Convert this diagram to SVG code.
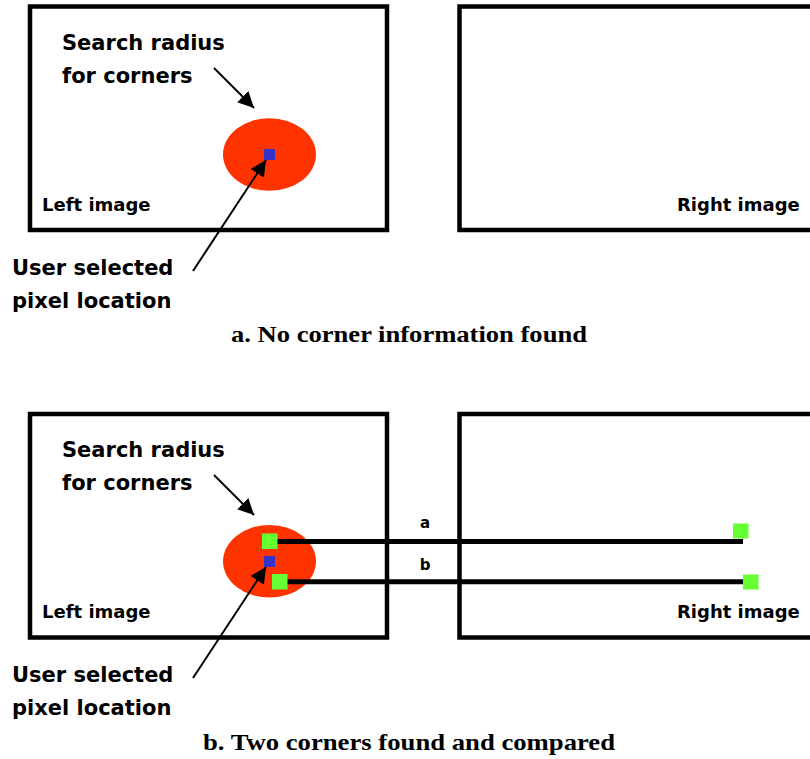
<svg xmlns="http://www.w3.org/2000/svg" width="810" height="759" viewBox="0 0 810 759">
  <style>
    .frame { fill: none; stroke: #000; stroke-width: 4.5; }
    .lbl { font-family: "DejaVu Sans", Verdana, sans-serif; font-weight: bold; fill: #000; }
    .big { font-size: 21px; }
    .mid { font-size: 18px; }
    .sm { font-size: 15px; }
    .cap { font-family: "Liberation Serif", "Times New Roman", serif; font-weight: bold; font-size: 24px; fill: #000; }
    .region { fill: #FF3300; }
    .pix { fill: #3333CC; }
    .corner { fill: #66FF33; }
    .arrow { stroke: #000; stroke-width: 2; fill: none; marker-end: url(#ah); }
    .match { stroke: #000; stroke-width: 5; fill: none; }
  </style>
  <defs>
    <marker id="ah" markerUnits="userSpaceOnUse" markerWidth="17" markerHeight="16" refX="16" refY="8" orient="auto">
      <path d="M0,0 L16,8 L0,16 Z" fill="#000"/>
    </marker>
  </defs>
  <rect width="810" height="759" fill="#fff"/>

  <!-- Panel a -->
  <g id="panel-a">
    <g id="a-left-image">
      <rect class="frame" x="30" y="6.5" width="357" height="223.5"/>
      <text class="lbl mid" x="42" y="211">Left image</text>
    </g>
    <g id="a-right-image">
      <rect class="frame" x="459.5" y="6.5" width="360" height="223.5"/>
      <text class="lbl mid" x="677" y="211">Right image</text>
    </g>
    <g id="a-search-region">
      <ellipse class="region" cx="269.5" cy="154.5" rx="46.5" ry="36.3"/>
      <rect class="pix" x="264" y="149" width="11" height="11"/>
    </g>
    <g id="a-search-label">
      <text class="lbl big" x="62" y="50">Search radius</text>
      <text class="lbl big" x="62" y="83">for corners</text>
    </g>
    <g id="a-user-label">
      <text class="lbl big" x="12" y="275">User selected</text>
      <text class="lbl big" x="12" y="308">pixel location</text>
    </g>
    <g id="a-connectors">
      <line class="arrow" x1="214" y1="68" x2="254" y2="108"/>
      <line class="arrow" x1="193" y1="271" x2="266" y2="160"/>
    </g>
    <text class="cap" x="409" y="342" text-anchor="middle" textLength="356" lengthAdjust="spacingAndGlyphs">a. No corner information found</text>
  </g>

  <!-- Panel b -->
  <g id="panel-b">
    <g id="b-left-image">
      <rect class="frame" x="30" y="414" width="357" height="223.5"/>
      <text class="lbl mid" x="42" y="618">Left image</text>
    </g>
    <g id="b-right-image">
      <rect class="frame" x="459.5" y="414" width="360" height="223.5"/>
      <text class="lbl mid" x="677" y="618">Right image</text>
    </g>
    <g id="b-search-region">
      <ellipse class="region" cx="269.5" cy="561.3" rx="46.5" ry="36.3"/>
      <rect class="pix" x="264" y="556" width="11" height="11"/>
    </g>
    <g id="b-search-label">
      <text class="lbl big" x="62" y="457">Search radius</text>
      <text class="lbl big" x="62" y="490">for corners</text>
    </g>
    <g id="b-user-label">
      <text class="lbl big" x="12" y="682">User selected</text>
      <text class="lbl big" x="12" y="715">pixel location</text>
    </g>
    <g id="b-connectors">
      <line class="arrow" x1="214" y1="475" x2="254" y2="515"/>
      <line class="arrow" x1="193" y1="678" x2="266" y2="567"/>
      <line class="match" x1="270" y1="541.5" x2="743" y2="541.5"/>
      <line class="match" x1="280" y1="581.7" x2="750" y2="581.7"/>
    </g>
    <g id="b-corner-a-left"><rect class="corner" x="262" y="533.5" width="15.5" height="15.5"/></g>
    <g id="b-corner-b-left"><rect class="corner" x="272" y="574" width="15.5" height="15.5"/></g>
    <g id="b-corner-a-right"><rect class="corner" x="733" y="523.5" width="15.5" height="15"/></g>
    <g id="b-corner-b-right"><rect class="corner" x="743" y="574.5" width="15.5" height="15"/></g>
    <text class="lbl sm" x="425" y="528" text-anchor="middle">a</text>
    <text class="lbl sm" x="425" y="570" text-anchor="middle">b</text>
    <text class="cap" x="409" y="750" text-anchor="middle" textLength="412" lengthAdjust="spacingAndGlyphs">b. Two corners found and compared</text>
  </g>
</svg>
